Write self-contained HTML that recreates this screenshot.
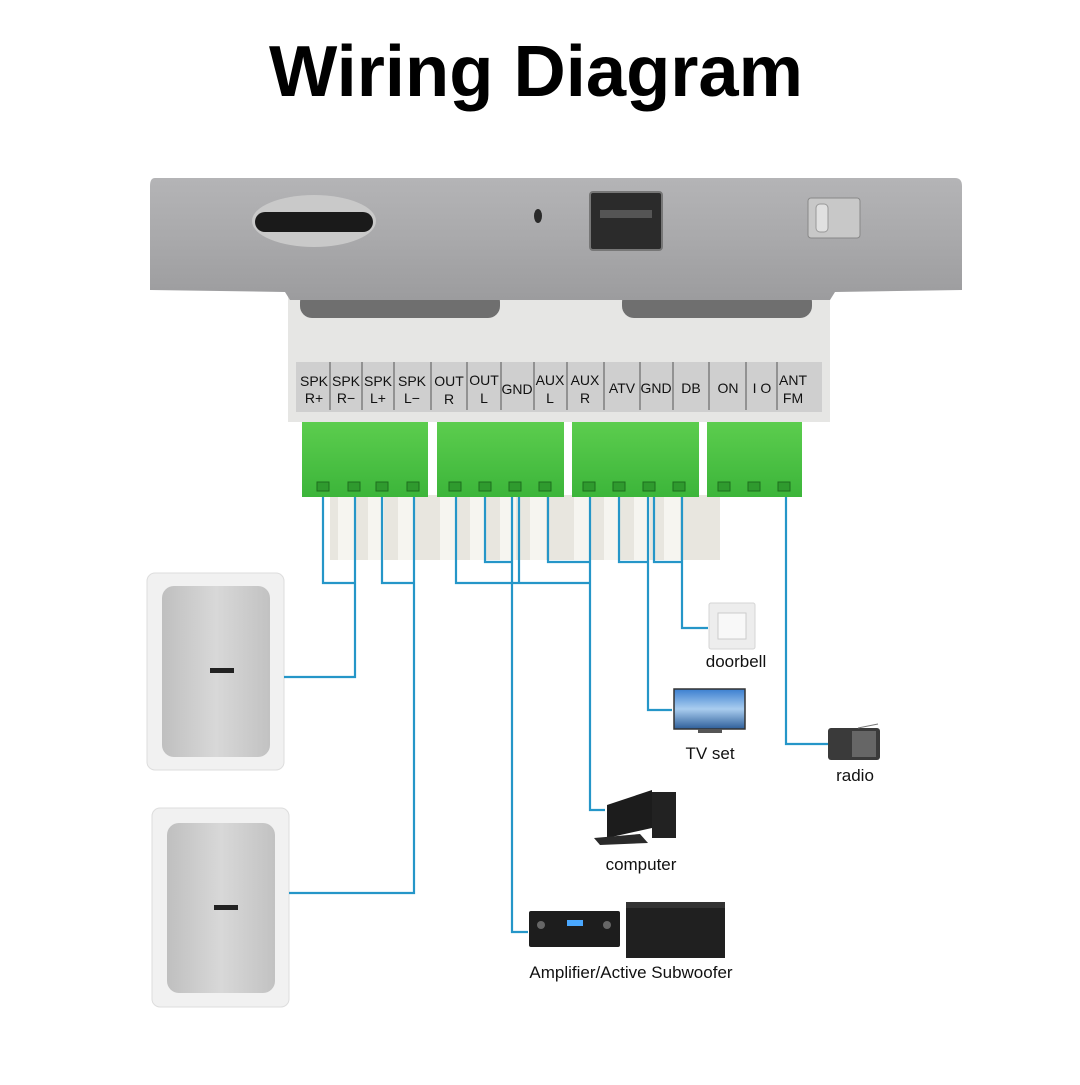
<!DOCTYPE html>
<html><head><meta charset="utf-8"><style>
html,body{margin:0;padding:0;background:#fff;}
body{width:1080px;height:1080px;overflow:hidden;font-family:"Liberation Sans",sans-serif;}
</style></head><body>
<svg width="1080" height="1080" viewBox="0 0 1080 1080" xmlns="http://www.w3.org/2000/svg">
<defs>
<linearGradient id="plate" x1="0" y1="0" x2="0" y2="1"><stop offset="0" stop-color="#b4b4b6"/><stop offset="0.5" stop-color="#a9a9ab"/><stop offset="1" stop-color="#9c9c9e"/></linearGradient>
<linearGradient id="grill" x1="0" y1="0" x2="1" y2="0"><stop offset="0" stop-color="#bfbfbf"/><stop offset="0.5" stop-color="#d8d8d8"/><stop offset="1" stop-color="#c2c2c2"/></linearGradient>
<linearGradient id="green" x1="0" y1="0" x2="0" y2="1"><stop offset="0" stop-color="#5ccd4e"/><stop offset="1" stop-color="#3cb53a"/></linearGradient>
<linearGradient id="tv" x1="0" y1="0" x2="0" y2="1"><stop offset="0" stop-color="#3b7fd0"/><stop offset="0.5" stop-color="#a9cdef"/><stop offset="1" stop-color="#2e5f9a"/></linearGradient>
</defs>
<text x="536" y="96" text-anchor="middle" font-size="72" font-weight="bold" fill="#000" textLength="534" lengthAdjust="spacingAndGlyphs">Wiring Diagram</text>

<rect x="288" y="290" width="542" height="132" fill="#e6e6e4"/>
<rect x="300" y="290" width="200" height="28" rx="12" fill="#6f6f6f"/>
<rect x="622" y="290" width="190" height="28" rx="12" fill="#6f6f6f"/>
<rect x="296" y="362" width="526" height="50" fill="#cfcfcf"/>
<g stroke="#555" stroke-width="1">
<line x1="330" y1="362" x2="330" y2="410"/><line x1="362" y1="362" x2="362" y2="410"/><line x1="394" y1="362" x2="394" y2="410"/><line x1="431" y1="362" x2="431" y2="410"/><line x1="467" y1="362" x2="467" y2="410"/><line x1="501" y1="362" x2="501" y2="410"/><line x1="534" y1="362" x2="534" y2="410"/><line x1="567" y1="362" x2="567" y2="410"/><line x1="604" y1="362" x2="604" y2="410"/><line x1="640" y1="362" x2="640" y2="410"/><line x1="673" y1="362" x2="673" y2="410"/><line x1="709" y1="362" x2="709" y2="410"/><line x1="746" y1="362" x2="746" y2="410"/><line x1="777" y1="362" x2="777" y2="410"/>
</g>
<g font-size="14" fill="#111" text-anchor="middle">
<text x="314" y="386">SPK</text><text x="314" y="403">R+</text>
<text x="346" y="386">SPK</text><text x="346" y="403">R−</text>
<text x="378" y="386">SPK</text><text x="378" y="403">L+</text>
<text x="412" y="386">SPK</text><text x="412" y="403">L−</text>
<text x="449" y="386">OUT</text><text x="449" y="404">R</text>
<text x="484" y="385">OUT</text><text x="484" y="403">L</text>
<text x="517" y="394">GND</text>
<text x="550" y="385">AUX</text><text x="550" y="403">L</text>
<text x="585" y="385">AUX</text><text x="585" y="403">R</text>
<text x="622" y="393">ATV</text>
<text x="656" y="393">GND</text>
<text x="691" y="393">DB</text>
<text x="728" y="393">ON</text>
<text x="762" y="393">I O</text>
<text x="793" y="385">ANT</text><text x="793" y="403">FM</text>
</g>
<rect x="330" y="495" width="390" height="65" fill="#e8e6df"/>
<g fill="#f6f5f0"><rect x="338" y="495" width="16" height="65"/><rect x="368" y="495" width="16" height="65"/><rect x="398" y="495" width="16" height="65"/><rect x="440" y="495" width="16" height="65"/><rect x="470" y="495" width="16" height="65"/><rect x="500" y="495" width="16" height="65"/><rect x="530" y="495" width="16" height="65"/><rect x="574" y="495" width="16" height="65"/><rect x="604" y="495" width="16" height="65"/><rect x="634" y="495" width="16" height="65"/><rect x="664" y="495" width="16" height="65"/></g>
<rect x="302" y="422" width="126" height="75" fill="url(#green)"/>
<rect x="437" y="422" width="127" height="75" fill="url(#green)"/>
<rect x="572" y="422" width="127" height="75" fill="url(#green)"/>
<rect x="707" y="422" width="95" height="75" fill="url(#green)"/>
<g fill="#2f9a2e" stroke="#1d6e1d" stroke-width="1">
<rect x="317" y="482" width="12" height="9"/><rect x="348" y="482" width="12" height="9"/><rect x="376" y="482" width="12" height="9"/><rect x="407" y="482" width="12" height="9"/>
<rect x="449" y="482" width="12" height="9"/><rect x="479" y="482" width="12" height="9"/><rect x="509" y="482" width="12" height="9"/><rect x="539" y="482" width="12" height="9"/>
<rect x="583" y="482" width="12" height="9"/><rect x="613" y="482" width="12" height="9"/><rect x="643" y="482" width="12" height="9"/><rect x="673" y="482" width="12" height="9"/>
<rect x="718" y="482" width="12" height="9"/><rect x="748" y="482" width="12" height="9"/><rect x="778" y="482" width="12" height="9"/>
</g>

<path d="M155 178 L955 178 Q962 178 962 186 L962 290 L835 292 L830 300 L290 300 L285 292 L150 290 L150 186 Q150 178 155 178Z" fill="url(#plate)"/>
<ellipse cx="314" cy="221" rx="62" ry="26" fill="#c9c9c9"/>
<rect x="255" y="212" width="118" height="20" rx="10" fill="#1a1a1a"/>
<ellipse cx="538" cy="216" rx="4" ry="7" fill="#2a2a2a"/>
<rect x="590" y="192" width="72" height="58" rx="3" fill="#2b2b2b" stroke="#777" stroke-width="2"/>
<rect x="600" y="210" width="52" height="8" fill="#555"/>
<rect x="808" y="198" width="52" height="40" rx="3" fill="#c8c8c8" stroke="#888"/>
<rect x="816" y="204" width="12" height="28" rx="4" fill="#e0e0e0" stroke="#999"/>

<rect x="147" y="573" width="137" height="197" rx="8" fill="#f1f1f1" stroke="#ddd"/>
<rect x="162" y="586" width="108" height="171" rx="12" fill="url(#grill)"/>
<rect x="210" y="668" width="24" height="5" fill="#222"/>
<rect x="152" y="808" width="137" height="199" rx="8" fill="#f1f1f1" stroke="#ddd"/>
<rect x="167" y="823" width="108" height="170" rx="12" fill="url(#grill)"/>
<rect x="214" y="905" width="24" height="5" fill="#222"/>

<g fill="none" stroke="#2596c8" stroke-width="2.2">
<path d="M323 497 V583 H355"/><path d="M355 497 V677 H284"/>
<path d="M382 497 V583 H414"/><path d="M414 497 V893 H289"/>
<path d="M456 497 V583 H590"/><path d="M485 497 V562 H512"/><path d="M512 497 V932 H528"/>
<path d="M519 497 V583"/><path d="M548 497 V562 H590"/><path d="M590 497 V810 H605"/>
<path d="M619 497 V562 H648"/><path d="M648 497 V710 H672"/>
<path d="M654 497 V562 H682"/><path d="M682 497 V628 H708"/>
<path d="M786 497 V744 H828"/>
</g>

<rect x="709" y="603" width="46" height="46" rx="2" fill="#ededed" stroke="#d5d5d5"/>
<rect x="718" y="613" width="28" height="26" fill="#f8f8f8" stroke="#ccc"/>
<rect x="674" y="689" width="71" height="40" fill="url(#tv)" stroke="#333" stroke-width="1.5"/>
<rect x="698" y="729" width="24" height="4" fill="#555"/>
<rect x="828" y="728" width="52" height="32" rx="3" fill="#3a3a3a"/>
<rect x="852" y="731" width="24" height="26" fill="#666"/>
<line x1="858" y1="728" x2="878" y2="724" stroke="#777"/>
<polygon points="607,805 652,790 652,828 607,838" fill="#1c1c1c"/>
<rect x="652" y="792" width="24" height="46" fill="#222"/>
<polygon points="594,838 640,834 648,843 600,845" fill="#2a2a2a"/>
<rect x="529" y="911" width="91" height="36" rx="2" fill="#1d1d1d"/>
<rect x="567" y="920" width="16" height="6" fill="#4aa8ff"/>
<circle cx="541" cy="925" r="4" fill="#666"/><circle cx="607" cy="925" r="4" fill="#666"/>
<rect x="626" y="902" width="99" height="56" fill="#202020"/>
<rect x="626" y="902" width="99" height="6" fill="#333"/>

<g font-size="17" fill="#111" text-anchor="middle">
<text x="736" y="667">doorbell</text>
<text x="710" y="759">TV set</text>
<text x="855" y="781">radio</text>
<text x="641" y="870">computer</text>
<text x="631" y="978">Amplifier/Active Subwoofer</text>
</g>
</svg>
</body></html>
